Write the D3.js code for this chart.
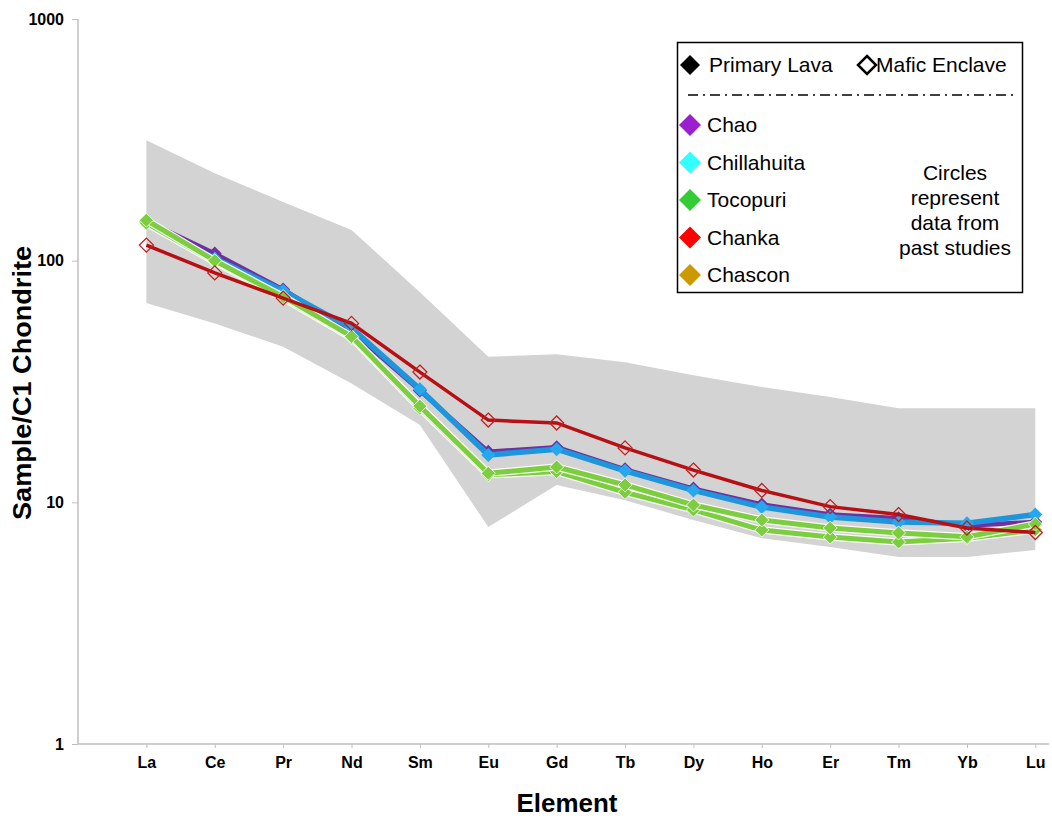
<!DOCTYPE html>
<html>
<head>
<meta charset="utf-8">
<script src="https://cdn.jsdelivr.net/npm/d3@7"></script>
<style>
  body { margin: 0; background: #fff; }
  text { font-family: Arial, "Liberation Sans", sans-serif; }
</style>
</head>
<body>
<div id="chart"></div>
<script>
// REE pattern data (chondrite normalised)
var elements = ["La", "Ce", "Pr", "Nd", "Sm", "Eu", "Gd", "Tb", "Dy", "Ho", "Er", "Tm", "Yb", "Lu"];
var yTicks = [1, 10, 100, 1000];

// grey envelope = past studies
var bandUpper = [315, 230, 175, 134, 74, 40, 41, 38, 33.6, 30, 27.3, 24.5, 24.5, 24.5];
var bandLower = [66.8, 55, 44, 31, 20.9, 7.9, 11.8, 10.2, 8.45, 7.1, 6.53, 5.94, 5.94, 6.35];

var chao = [146, 107, 76, 51, 29, 16.2, 16.9, 13.7, 11.4, 9.8, 8.9, 8.6, 8.0, 8.3];
var chillahuita = [144, 102, 75, 52.6, 29.4, 15.7, 16.6, 13.5, 11.2, 9.56, 8.7, 8.3, 8.2, 8.9];
var tocopuriA = [147, 100, 71, 48.6, 25, 13.2, 14.0, 11.8, 9.75, 8.45, 7.83, 7.47, 7.2, 8.13];
var tocopuriB = [143, 99, 70, 48, 24.5, 13.0, 13.4, 11.0, 9.3, 7.68, 7.18, 6.85, 7.1, 7.7];
var chanka = [116, 89, 70, 55, 34.6, 21.9, 21.3, 16.8, 13.6, 11.2, 9.6, 8.9, 7.83, 7.5];

var legendNames = ["Chao", "Chillahuita", "Tocopuri", "Chanka", "Chascon"];
var legendColors = ["#9b1fcf", "#33ffff", "#33cc33", "#ff0000", "#cc9900"];
var noteLines = ["Circles", "represent", "data from", "past studies"];

var width = 1052;
var height = 819;
var margin = ({ top: 19, right: 3, bottom: 75, left: 78 });

var svg = d3.select("#chart").append("svg")
  .attr("width", width)
  .attr("height", height);

/* scales: element index 1..14 on x, log scale on y */
var xScale = d3.scaleLinear()
  .domain([0, 14.2])
  .range([margin.left, width - margin.right]);

var yScale = d3.scaleLog()
  .domain([1, 1000])
  .range([height - margin.bottom, margin.top]);

var xOf = (d, i) => xScale(i + 1);

// diamond marker path
function diamond(r) {
  return "M0," + (-r) + "L" + r + ",0L0," + r + "L" + (-r) + ",0Z";
}

/* grey envelope */
var band = d3.area()
  .x(xOf)
  .y0((d, i) => yScale(bandLower[i]))
  .y1(d => yScale(d));

svg.append("path")
  .attr("d", band(bandUpper))
  .style("fill", "#d3d3d3");

/* axes */
var xAxis = d3.axisBottom(xScale)
  .tickValues(d3.range(1, 15))
  .tickFormat(d => elements[d - 1])
  .tickSize(4)
  .tickPadding(9);

var yAxis = d3.axisLeft(yScale)
  .tickValues(yTicks)
  .tickFormat(d3.format("d"))
  .tickSize(6)
  .tickPadding(8);

var gx = svg.append("g")
  .attr("transform", `translate(0,${yScale(1)})`)
  .call(xAxis);
var gy = svg.append("g")
  .attr("transform", `translate(${margin.left},0)`)
  .call(yAxis);

[gx, gy].forEach(function (g) {
  g.select(".domain").style("stroke", "#bfbfbf").style("stroke-width", 1.5);
  g.selectAll(".tick line").style("stroke", "#bfbfbf");
  g.selectAll(".tick text")
    .style("font-size", "16px")
    .style("font-weight", "bold")
    .style("fill", "#000");
});
gx.select(".domain").attr("d", `M${margin.left},0H${width - margin.right}`);
gy.select(".domain").attr("d", `M0,${yScale(1)}V${yScale(1000)}`);

/* series lines */
var line = d3.line()
  .x(xOf)
  .y(d => yScale(d));

var series = [
  { values: chao, color: "#7030a0", marker: "#7030a0", width: 4.5, halo: false },
  { values: chillahuita, color: "#1f96dc", marker: "#25a8ee", width: 5.5, halo: false },
  { values: tocopuriB, color: "#7ccd3f", marker: "#7ccd3f", width: 5, halo: true },
  { values: tocopuriA, color: "#7ccd3f", marker: "#7ccd3f", width: 5, halo: true }
];

series.forEach(function (s) {
  if (s.halo) {
    svg.append("path")
      .attr("d", line(s.values))
      .style("fill", "none")
      .style("stroke", "#fff")
      .style("stroke-width", s.width + 2.5)
      .style("opacity", 0.9);
  }
  svg.append("path")
    .attr("d", line(s.values))
    .style("fill", "none")
    .style("stroke", s.color)
    .style("stroke-width", s.width)
    .style("stroke-linejoin", "round");

  svg.append("g").selectAll("path")
    .data(s.values)
    .join("path")
    .attr("transform", (d, i) => `translate(${xOf(d, i)},${yScale(d)})`)
    .attr("d", diamond(7))
    .style("fill", s.marker)
    .style("stroke", s.halo ? "#fff" : "none")
    .style("stroke-width", 0.8);
});

// mafic enclave (hollow markers) on top
svg.append("path")
  .attr("d", line(chanka))
  .style("fill", "none")
  .style("stroke", "#b80f14")
  .style("stroke-width", 3.5);

svg.append("g").selectAll("path")
  .data(chanka)
  .join("path")
  .attr("transform", (d, i) => `translate(${xOf(d, i)},${yScale(d)})`)
  .attr("d", diamond(7))
  .style("fill", "none")
  .style("stroke", "#c0201f")
  .style("stroke-width", 1.3);

/* legend */
var legend = svg.append("g");

legend.append("rect")
  .attr("x", 677.5)
  .attr("y", 42.5)
  .attr("width", 345)
  .attr("height", 250)
  .style("fill", "#fff")
  .style("stroke", "#000")
  .style("stroke-width", 1.5);

legend.append("path")
  .attr("transform", "translate(690,65)")
  .attr("d", diamond(10))
  .style("fill", "#000");
legend.append("text")
  .attr("x", 709).attr("y", 65).attr("dy", "0.35em")
  .style("font-size", "21px")
  .text("Primary Lava");

legend.append("path")
  .attr("transform", "translate(867,65)")
  .attr("d", diamond(9))
  .style("fill", "#fff")
  .style("stroke", "#000")
  .style("stroke-width", 2.5);
legend.append("text")
  .attr("x", 876).attr("y", 65).attr("dy", "0.35em")
  .style("font-size", "21px")
  .text("Mafic Enclave");

legend.append("line")
  .attr("x1", 688).attr("x2", 1014)
  .attr("y1", 95).attr("y2", 95)
  .style("stroke", "#000")
  .style("stroke-width", 1.6)
  .style("stroke-dasharray", "10,5,2,5");

legend.selectAll(".item")
  .data(legendNames)
  .join("g")
  .attr("class", "item")
  .attr("transform", (d, i) => `translate(690,${125 + i * 37.5})`)
  .each(function (d, i) {
    var g = d3.select(this);
    g.append("path")
      .attr("d", diamond(11))
      .style("fill", legendColors[i]);
    g.append("text")
      .attr("x", 17).attr("dy", "0.35em")
      .style("font-size", "21px")
      .text(d);
  });

legend.selectAll(".note")
  .data(noteLines)
  .join("text")
  .attr("class", "note")
  .attr("x", 955)
  .attr("y", (d, i) => 173 + i * 25)
  .attr("dy", "0.35em")
  .style("text-anchor", "middle")
  .style("font-size", "21px")
  .text(d => d);

/* axis titles */
svg.append("text")
  .attr("transform", "translate(567,803)")
  .attr("dy", "0.35em")
  .style("text-anchor", "middle")
  .style("font-size", "26px")
  .style("font-weight", "bold")
  .attr("textLength", 101)
  .attr("lengthAdjust", "spacingAndGlyphs")
  .text("Element");

svg.append("text")
  .attr("transform", "translate(22,383) rotate(-90)")
  .attr("dy", "0.35em")
  .style("text-anchor", "middle")
  .style("font-size", "26px")
  .style("font-weight", "bold")
  .attr("textLength", 274)
  .attr("lengthAdjust", "spacingAndGlyphs")
  .text("Sample/C1 Chondrite");
</script>
</body>
</html>
